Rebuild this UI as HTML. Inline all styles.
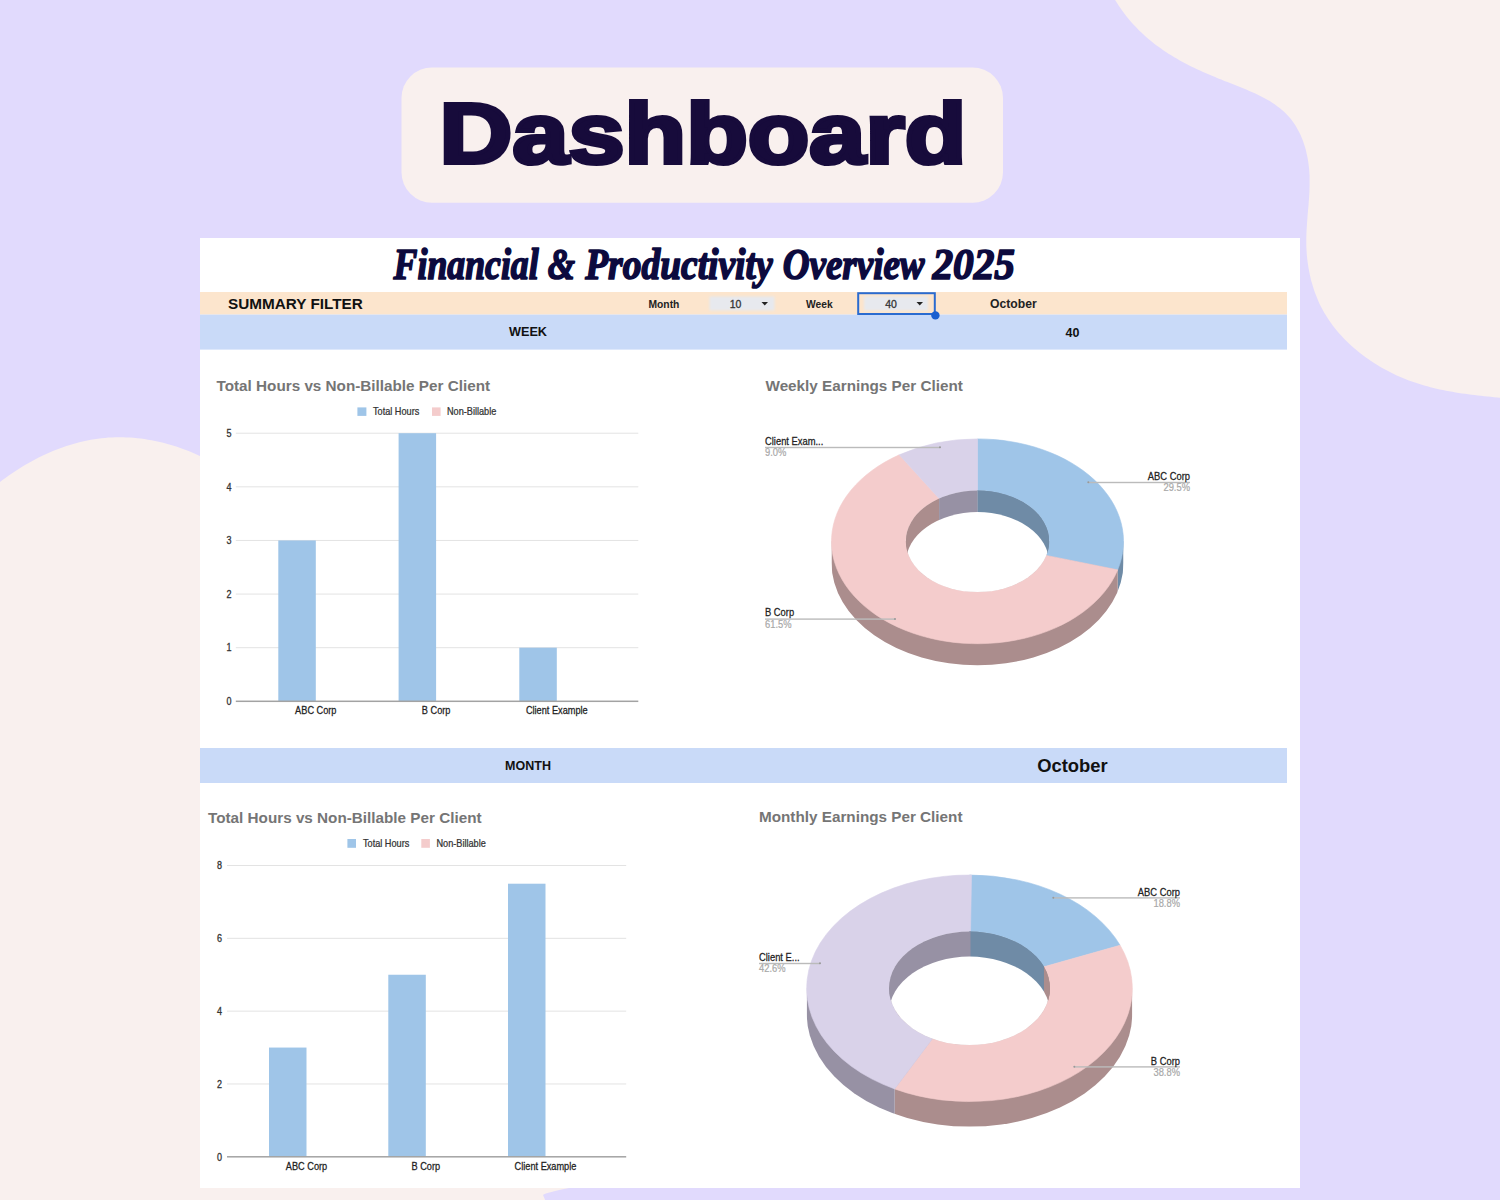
<!DOCTYPE html>
<html>
<head>
<meta charset="utf-8">
<style>
html,body{margin:0;padding:0;width:1500px;height:1200px;overflow:hidden;background:#E1DAFD;}
svg{display:block;position:absolute;left:0;top:0;}
text{font-family:"Liberation Sans",sans-serif;}
.tick{font-size:10px;fill:#333;stroke:#333;stroke-width:0.3;}
.lab{font-size:10px;fill:#222;stroke:#222;stroke-width:0.25;}
.plab{font-size:10.1px;fill:#222;stroke:#222;stroke-width:0.25;}
.ppct{font-size:10.1px;fill:#A8A8A8;stroke:#A8A8A8;stroke-width:0.2;}
.ctitle{font-size:15.5px;font-weight:bold;fill:#757575;}
.leg{font-size:10px;fill:#333;stroke:#333;stroke-width:0.25;}
</style>
</head>
<body>
<svg width="1500" height="1200" viewBox="0 0 1500 1200">
  <defs><filter id="blur1" x="-10%" y="-30%" width="120%" height="160%"><feGaussianBlur stdDeviation="0.8"/></filter></defs>
  <rect x="0" y="0" width="1500" height="1200" fill="#E1DAFD"/>
  <path d="M1112.8,-3.9 L1114.6,-0.8 L1116.4,2.1 L1118.3,5.0 L1120.2,7.8 L1122.1,10.6 L1124.1,13.3 L1126.2,15.9 L1128.2,18.5 L1130.3,21.0 L1132.5,23.4 L1134.7,25.8 L1136.9,28.1 L1139.1,30.4 L1141.4,32.6 L1143.8,34.8 L1146.1,36.9 L1148.5,39.0 L1151.0,41.0 L1153.4,43.0 L1155.9,44.9 L1158.5,46.8 L1161.0,48.6 L1163.6,50.4 L1166.3,52.2 L1168.9,53.9 L1171.6,55.6 L1174.3,57.2 L1177.1,58.8 L1179.8,60.4 L1182.6,61.9 L1185.5,63.4 L1188.3,64.9 L1191.2,66.4 L1194.1,67.8 L1197.0,69.2 L1200.0,70.6 L1203.0,71.9 L1206.0,73.2 L1209.0,74.6 L1212.0,75.8 L1215.1,77.1 L1218.2,78.4 L1221.3,79.6 L1224.4,80.9 L1227.5,82.1 L1230.6,83.3 L1233.8,84.5 L1236.9,85.8 L1240.0,87.0 L1243.1,88.3 L1246.2,89.5 L1249.3,90.9 L1252.3,92.2 L1255.3,93.6 L1258.3,95.0 L1261.2,96.4 L1264.1,97.9 L1266.9,99.5 L1269.7,101.1 L1272.3,102.8 L1275.0,104.6 L1277.5,106.4 L1280.0,108.3 L1282.3,110.3 L1284.6,112.3 L1286.8,114.5 L1288.9,116.7 L1290.9,119.1 L1292.7,121.6 L1294.5,124.1 L1296.2,126.7 L1297.7,129.4 L1299.2,132.2 L1300.6,135.1 L1301.8,138.0 L1303.0,141.0 L1304.0,144.0 L1305.0,147.1 L1305.9,150.2 L1306.6,153.4 L1307.3,156.5 L1307.9,159.8 L1308.4,163.0 L1308.8,166.2 L1309.2,169.5 L1309.4,172.7 L1309.6,176.0 L1309.6,179.3 L1309.6,182.5 L1309.6,185.8 L1309.5,189.1 L1309.4,192.4 L1309.2,195.6 L1309.0,198.9 L1308.7,202.2 L1308.5,205.5 L1308.2,208.7 L1307.9,212.0 L1307.6,215.3 L1307.4,218.6 L1307.1,221.9 L1306.9,225.1 L1306.7,228.4 L1306.5,231.7 L1306.4,235.0 L1306.3,238.2 L1306.3,241.5 L1306.3,244.7 L1306.4,248.0 L1306.6,251.2 L1306.8,254.5 L1307.1,257.7 L1307.5,260.9 L1307.9,264.1 L1308.4,267.3 L1309.0,270.5 L1309.6,273.7 L1310.3,276.8 L1311.0,279.9 L1311.9,283.0 L1312.8,286.1 L1313.7,289.1 L1314.8,292.2 L1315.9,295.1 L1317.1,298.1 L1318.3,301.0 L1319.6,303.9 L1321.0,306.8 L1322.5,309.6 L1324.1,312.4 L1325.7,315.1 L1327.4,317.8 L1329.2,320.5 L1331.0,323.1 L1332.9,325.7 L1334.9,328.2 L1336.9,330.7 L1339.0,333.2 L1341.2,335.6 L1343.4,338.0 L1345.6,340.3 L1348.0,342.6 L1350.3,344.8 L1352.8,347.0 L1355.2,349.1 L1357.8,351.2 L1360.3,353.3 L1362.9,355.3 L1365.6,357.2 L1368.2,359.1 L1371.0,361.0 L1373.7,362.8 L1376.5,364.6 L1379.3,366.3 L1382.2,367.9 L1385.1,369.5 L1388.0,371.1 L1390.9,372.6 L1393.8,374.0 L1396.8,375.4 L1399.8,376.7 L1402.8,378.0 L1405.8,379.2 L1408.9,380.4 L1411.9,381.5 L1415.0,382.6 L1418.0,383.6 L1421.1,384.6 L1424.2,385.5 L1427.3,386.3 L1430.4,387.2 L1433.5,387.9 L1436.6,388.7 L1439.8,389.4 L1442.9,390.1 L1446.1,390.7 L1449.2,391.3 L1452.4,391.8 L1455.6,392.4 L1458.8,392.9 L1462.0,393.4 L1465.2,393.8 L1468.4,394.3 L1471.6,394.7 L1474.8,395.1 L1478.0,395.5 L1481.2,395.8 L1484.4,396.2 L1487.6,396.5 L1490.9,396.8 L1494.1,397.2 L1497.3,397.5 L1500.6,397.8 L1503.8,398.1 L1507.0,398.4 L1510.3,398.7 L1513.5,399.0 L1516.8,399.3 L1520.0,399.6 L1520,-3 Z" fill="#F9F0EE"/>
  <path d="M-19.7,498.5 L-17.0,496.0 L-14.4,493.7 L-11.6,491.3 L-8.9,489.0 L-6.1,486.7 L-3.3,484.4 L-0.4,482.2 L2.5,480.0 L5.4,477.9 L8.4,475.8 L11.4,473.7 L14.4,471.7 L17.5,469.7 L20.6,467.7 L23.7,465.8 L26.8,464.0 L30.0,462.2 L33.2,460.5 L36.4,458.8 L39.7,457.1 L42.9,455.5 L46.2,454.0 L49.5,452.5 L52.9,451.1 L56.2,449.8 L59.6,448.5 L63.0,447.2 L66.4,446.1 L69.9,445.0 L73.3,444.0 L76.8,443.0 L80.3,442.1 L83.8,441.3 L87.3,440.5 L90.8,439.8 L94.3,439.2 L97.9,438.7 L101.4,438.3 L105.0,437.9 L108.5,437.6 L112.1,437.4 L115.7,437.3 L119.3,437.2 L122.9,437.3 L126.5,437.4 L130.0,437.6 L133.6,437.8 L137.2,438.2 L140.8,438.6 L144.4,439.1 L148.0,439.7 L151.5,440.3 L155.1,441.0 L158.6,441.8 L162.2,442.6 L165.7,443.5 L169.2,444.5 L172.7,445.5 L176.2,446.6 L179.6,447.8 L183.0,449.0 L186.5,450.3 L189.9,451.6 L193.2,453.0 L196.6,454.4 L199.9,456.0 L203.2,457.5 L206.5,459.1 L209.7,460.8 L212.9,462.5 L216.1,464.2 L219.2,466.1 L222.3,467.9 L225.4,469.8 L228.4,471.8 L231.4,473.7 L234.3,475.8 L237.2,477.8 L240.1,480.0 L700,1100 L569,1188 C555,1191 545,1193 543,1195 L546,1202 L-20,1202 Z" fill="#F9F0EE"/>

  <!-- Dashboard pill -->
  <rect x="401.5" y="67.5" width="601.5" height="135.3" rx="30.5" ry="30.5" fill="#F9F0EE"/>
  <text x="439.6" y="162.9" font-size="84.6" font-weight="bold" fill="#170B3B" stroke="#170B3B" stroke-width="4.2" stroke-linejoin="miter" stroke-miterlimit="3" transform="translate(439.6 0) scale(1.192 1) translate(-439.6 0)">Dashboard</text>

  <!-- Panel -->
  <rect x="200" y="238" width="1100" height="950" fill="#FFFFFF"/>
  <g font-size="44" font-weight="bold" font-style="italic" fill="#0C0A3E" stroke="#0C0A3E" stroke-width="1.7" stroke-linejoin="round" style="font-family:'Liberation Serif',serif"><text x="393.6" y="278.5" textLength="145.1" lengthAdjust="spacingAndGlyphs" style="font-family:'Liberation Serif',serif">Financial</text><text x="547.8" y="278.5" textLength="27.2" lengthAdjust="spacingAndGlyphs" style="font-family:'Liberation Serif',serif">&amp;</text><text x="585.2" y="278.5" textLength="187.4" lengthAdjust="spacingAndGlyphs" style="font-family:'Liberation Serif',serif">Productivity</text><text x="782.8" y="278.5" textLength="141.7" lengthAdjust="spacingAndGlyphs" style="font-family:'Liberation Serif',serif">Overview</text><text x="932.4" y="278.5" textLength="82.6" lengthAdjust="spacingAndGlyphs" style="font-family:'Liberation Serif',serif">2025</text></g>

  <!-- filter band -->
  <rect x="200" y="292" width="1087" height="22.6" fill="#FCE5CD"/>
  <rect x="200" y="314.6" width="1087" height="35" fill="#C9DAF8"/>
  <text x="228" y="309.2" font-size="15.3" font-weight="bold" fill="#111">SUMMARY FILTER</text>
  <text x="648.5" y="307.6" font-size="10.3" font-weight="bold" fill="#222">Month</text>
  <rect x="709.5" y="296.5" width="65" height="14" fill="#E7E9EE" filter="url(#blur1)"/>
  <text x="735.5" y="307.8" font-size="10.5" text-anchor="middle" fill="#333" stroke="#333" stroke-width="0.3">10</text>
  <path d="M761.5,302 L768,302 L764.75,305.5 Z" fill="#222"/>
  <text x="806" y="307.6" font-size="10.3" font-weight="bold" fill="#222">Week</text>
  <rect x="864" y="296.5" width="64" height="14" fill="#E7E9EE" filter="url(#blur1)"/>
  <rect x="858.2" y="293.2" width="76.6" height="20.8" fill="none" stroke="#2A6BD0" stroke-width="2"/>
  <text x="891" y="307.8" font-size="10.5" text-anchor="middle" fill="#333" stroke="#333" stroke-width="0.3">40</text>
  <path d="M916.5,302 L923,302 L919.75,305.5 Z" fill="#222"/>
  <circle cx="935.4" cy="315.4" r="4.2" fill="#1A5FD0"/>
  <text x="990" y="307.7" font-size="12.2" font-weight="bold" fill="#222">October</text>
  <text x="528" y="336" font-size="12.7" font-weight="bold" fill="#111" text-anchor="middle">WEEK</text>
  <text x="1072.5" y="336.5" font-size="12.5" font-weight="bold" fill="#111" text-anchor="middle">40</text>

  <!-- Chart 1 -->
  <text transform="translate(216.5 391.1) scale(0.985 1)" class="ctitle">Total Hours vs Non-Billable Per Client</text>
  <rect x="357.4" y="407.4" width="9" height="8.5" fill="#9FC5E8"/>
  
  <rect x="432" y="407.4" width="8.6" height="8.5" fill="#F4CCCC"/>
  <text transform="translate(373.00 415.30) scale(0.915 1)" class="leg" text-anchor="start">Total Hours</text><text transform="translate(447.00 415.30) scale(0.915 1)" class="leg" text-anchor="start">Non-Billable</text>
  <rect x="235.8" y="647.18" width="402.49999999999994" height="1" fill="#E3E3E3"/>
<text transform="translate(231.50 651.48) scale(0.9 1)" class="tick" text-anchor="end">1</text>
<rect x="235.8" y="593.56" width="402.49999999999994" height="1" fill="#E3E3E3"/>
<text transform="translate(231.50 597.86) scale(0.9 1)" class="tick" text-anchor="end">2</text>
<rect x="235.8" y="539.94" width="402.49999999999994" height="1" fill="#E3E3E3"/>
<text transform="translate(231.50 544.24) scale(0.9 1)" class="tick" text-anchor="end">3</text>
<rect x="235.8" y="486.32" width="402.49999999999994" height="1" fill="#E3E3E3"/>
<text transform="translate(231.50 490.62) scale(0.9 1)" class="tick" text-anchor="end">4</text>
<rect x="235.8" y="432.70" width="402.49999999999994" height="1" fill="#E3E3E3"/>
<text transform="translate(231.50 437.00) scale(0.9 1)" class="tick" text-anchor="end">5</text>
<text transform="translate(231.50 705.10) scale(0.9 1)" class="tick" text-anchor="end">0</text>
<rect x="278.30" y="540.44" width="37.5" height="160.86" fill="#9FC5E8"/>
<text transform="translate(315.80 714.20) scale(0.92 1)" class="lab" text-anchor="middle">ABC Corp</text>
<rect x="398.60" y="433.20" width="37.5" height="268.10" fill="#9FC5E8"/>
<text transform="translate(436.10 714.20) scale(0.92 1)" class="lab" text-anchor="middle">B Corp</text>
<rect x="519.30" y="647.68" width="37.5" height="53.62" fill="#9FC5E8"/>
<text transform="translate(556.80 714.20) scale(0.92 1)" class="lab" text-anchor="middle">Client Example</text>
<rect x="235.8" y="700.55" width="402.49999999999994" height="1.5" fill="#A3A3A3"/>

  <!-- Donut 1 -->
  <text transform="translate(765.5 390.8) scale(0.985 1)" class="ctitle">Weekly Earnings Per Client</text>
  <clipPath id="sidea"><path d="M831.5,541.3 L831.5,562.8 A146,102.4 0 0 0 1123.5,562.8 L1123.5,541.3 Z"/></clipPath>
<rect x="1117.70" y="536.3" width="5.80" height="133.9" fill="#6F8BA6" clip-path="url(#sidea)"/>
<rect x="831.50" y="536.3" width="286.20" height="133.9" fill="#AB8D8D" clip-path="url(#sidea)"/>
<path d="M977.50,438.90 A146,102.4 0 0 1 1117.70,569.87 L1046.35,555.44 A71.7,50.7 0 0 0 977.50,490.60 Z" fill="#9FC5E8" stroke="#9FC5E8" stroke-width="0.6"/>
<path d="M1117.70,569.87 A146,102.4 0 1 1 899.27,454.84 L939.08,498.49 A71.7,50.7 0 1 0 1046.35,555.44 Z" fill="#F4CCCC" stroke="#F4CCCC" stroke-width="0.6"/>
<path d="M899.27,454.84 A146,102.4 0 0 1 977.50,438.90 L977.50,490.60 A71.7,50.7 0 0 0 939.08,498.49 Z" fill="#D9D2E9" stroke="#D9D2E9" stroke-width="0.6"/>
<clipPath id="ina"><ellipse cx="977.5" cy="541.3" rx="71.7" ry="50.7"/></clipPath>
<g clip-path="url(#ina)">
<rect x="977.50" y="488.59999999999997" width="71.70" height="64.45" fill="#6F8BA6"/>
<rect x="977.50" y="488.59999999999997" width="71.70" height="64.45" fill="#6F8BA6"/>
<rect x="905.80" y="488.59999999999997" width="33.28" height="64.45" fill="#AB8D8D"/>
<rect x="939.08" y="488.59999999999997" width="38.42" height="64.45" fill="#9791A4"/>
<ellipse cx="977.5" cy="562.8" rx="71.7" ry="50.7" fill="#fff"/>
</g>
  <rect x="765.0" y="446.8" width="175.0" height="1.4" fill="#BBBBBB"/><circle cx="940" cy="447.3" r="1" fill="#999"/><text transform="translate(765.00 444.70) scale(0.928 1)" class="plab" text-anchor="start">Client Exam...</text><text transform="translate(765.00 455.70) scale(0.928 1)" class="ppct" text-anchor="start">9.0%</text>
<rect x="1088.3" y="481.8" width="101.7" height="1.4" fill="#BBBBBB"/><circle cx="1088.3" cy="482.3" r="1" fill="#999"/><text transform="translate(1190.00 480.00) scale(0.928 1)" class="plab" text-anchor="end">ABC Corp</text><text transform="translate(1190.00 491.40) scale(0.928 1)" class="ppct" text-anchor="end">29.5%</text>
<rect x="765.0" y="618.4" width="130.0" height="1.4" fill="#BBBBBB"/><circle cx="895" cy="618.9" r="1" fill="#999"/><text transform="translate(765.00 616.40) scale(0.928 1)" class="plab" text-anchor="start">B Corp</text><text transform="translate(765.00 628.00) scale(0.928 1)" class="ppct" text-anchor="start">61.5%</text>

  <!-- MONTH band -->
  <rect x="200" y="748" width="1087" height="35" fill="#C9DAF8"/>
  <text x="528" y="769.7" font-size="12.5" font-weight="bold" fill="#111" text-anchor="middle">MONTH</text>
  <text x="1072.4" y="772.4" font-size="18.4" font-weight="bold" fill="#111" text-anchor="middle">October</text>

  <!-- Chart 2 -->
  <text transform="translate(208.0 822.5) scale(0.985 1)" class="ctitle">Total Hours vs Non-Billable Per Client</text>
  <rect x="347.4" y="839" width="8.6" height="8.8" fill="#9FC5E8"/>
  
  <rect x="421.3" y="839" width="8.6" height="8.8" fill="#F4CCCC"/>
  <text transform="translate(363.00 847.30) scale(0.915 1)" class="leg" text-anchor="start">Total Hours</text><text transform="translate(436.50 847.30) scale(0.915 1)" class="leg" text-anchor="start">Non-Billable</text>
  <rect x="227" y="1083.47" width="399.20000000000005" height="1" fill="#E3E3E3"/>
<text transform="translate(222.00 1087.77) scale(0.9 1)" class="tick" text-anchor="end">2</text>
<rect x="227" y="1010.65" width="399.20000000000005" height="1" fill="#E3E3E3"/>
<text transform="translate(222.00 1014.95) scale(0.9 1)" class="tick" text-anchor="end">4</text>
<rect x="227" y="937.83" width="399.20000000000005" height="1" fill="#E3E3E3"/>
<text transform="translate(222.00 942.12) scale(0.9 1)" class="tick" text-anchor="end">6</text>
<rect x="227" y="865.00" width="399.20000000000005" height="1" fill="#E3E3E3"/>
<text transform="translate(222.00 869.30) scale(0.9 1)" class="tick" text-anchor="end">8</text>
<text transform="translate(222.00 1160.60) scale(0.9 1)" class="tick" text-anchor="end">0</text>
<rect x="269.00" y="1047.56" width="37.5" height="109.24" fill="#9FC5E8"/>
<text transform="translate(306.50 1169.70) scale(0.92 1)" class="lab" text-anchor="middle">ABC Corp</text>
<rect x="388.30" y="974.74" width="37.5" height="182.06" fill="#9FC5E8"/>
<text transform="translate(425.80 1169.70) scale(0.92 1)" class="lab" text-anchor="middle">B Corp</text>
<rect x="508.00" y="883.71" width="37.5" height="273.09" fill="#9FC5E8"/>
<text transform="translate(545.50 1169.70) scale(0.92 1)" class="lab" text-anchor="middle">Client Example</text>
<rect x="227" y="1156.05" width="399.20000000000005" height="1.5" fill="#A3A3A3"/>

  <!-- Donut 2 -->
  <text transform="translate(759.0 822.4) scale(0.985 1)" class="ctitle">Monthly Earnings Per Client</text>
  <clipPath id="sideb"><path d="M806.7,988.3 L806.7,1013.3 A162.8,113.3 0 0 0 1132.3,1013.3 L1132.3,988.3 Z"/></clipPath>
<rect x="894.68" y="983.3" width="237.62" height="148.3" fill="#AB8D8D" clip-path="url(#sideb)"/>
<rect x="806.70" y="983.3" width="87.98" height="148.3" fill="#9791A4" clip-path="url(#sideb)"/>
<path d="M969.50,875.00 A162.8,113.3 0 0 1 1120.10,945.27 L1043.97,966.77 A80.5,56.7 0 0 0 969.50,931.60 Z" fill="#9FC5E8" stroke="#9FC5E8" stroke-width="0.6"/>
<path d="M1120.10,945.27 A162.8,113.3 0 0 1 894.68,1088.93 L932.50,1038.66 A80.5,56.7 0 0 0 1043.97,966.77 Z" fill="#F4CCCC" stroke="#F4CCCC" stroke-width="0.6"/>
<path d="M894.68,1088.93 A162.8,113.3 0 0 1 971.55,875.01 L970.51,931.60 A80.5,56.7 0 0 0 932.50,1038.66 Z" fill="#D9D2E9" stroke="#D9D2E9" stroke-width="0.6"/>
<clipPath id="inb"><ellipse cx="969.5" cy="988.3" rx="80.5" ry="56.7"/></clipPath>
<g clip-path="url(#inb)">
<rect x="969.50" y="929.5999999999999" width="74.47" height="72.2" fill="#6F8BA6"/>
<rect x="969.50" y="929.5999999999999" width="74.47" height="72.2" fill="#6F8BA6"/>
<rect x="1043.97" y="929.5999999999999" width="6.03" height="72.2" fill="#AB8D8D"/>
<rect x="1043.97" y="929.5999999999999" width="6.03" height="72.2" fill="#AB8D8D"/>
<rect x="889.00" y="929.5999999999999" width="81.51" height="72.2" fill="#9791A4"/>
<ellipse cx="969.5" cy="1013.3" rx="80.5" ry="56.7" fill="#fff"/>
</g>
  <rect x="1053.3" y="897.2" width="126.7" height="1.4" fill="#BBBBBB"/><circle cx="1053.3" cy="897.7" r="1" fill="#999"/><text transform="translate(1180.00 895.70) scale(0.928 1)" class="plab" text-anchor="end">ABC Corp</text><text transform="translate(1180.00 906.70) scale(0.928 1)" class="ppct" text-anchor="end">18.8%</text>
<rect x="759.0" y="962.8" width="61.0" height="1.4" fill="#BBBBBB"/><circle cx="820" cy="963.3" r="1" fill="#999"/><text transform="translate(759.00 961.40) scale(0.928 1)" class="plab" text-anchor="start">Client E...</text><text transform="translate(759.00 972.40) scale(0.928 1)" class="ppct" text-anchor="start">42.6%</text>
<rect x="1074.3" y="1066.2" width="105.7" height="1.4" fill="#BBBBBB"/><circle cx="1074.3" cy="1066.7" r="1" fill="#999"/><text transform="translate(1180.00 1064.70) scale(0.928 1)" class="plab" text-anchor="end">B Corp</text><text transform="translate(1180.00 1075.70) scale(0.928 1)" class="ppct" text-anchor="end">38.8%</text>
</svg>
</body>
</html>
